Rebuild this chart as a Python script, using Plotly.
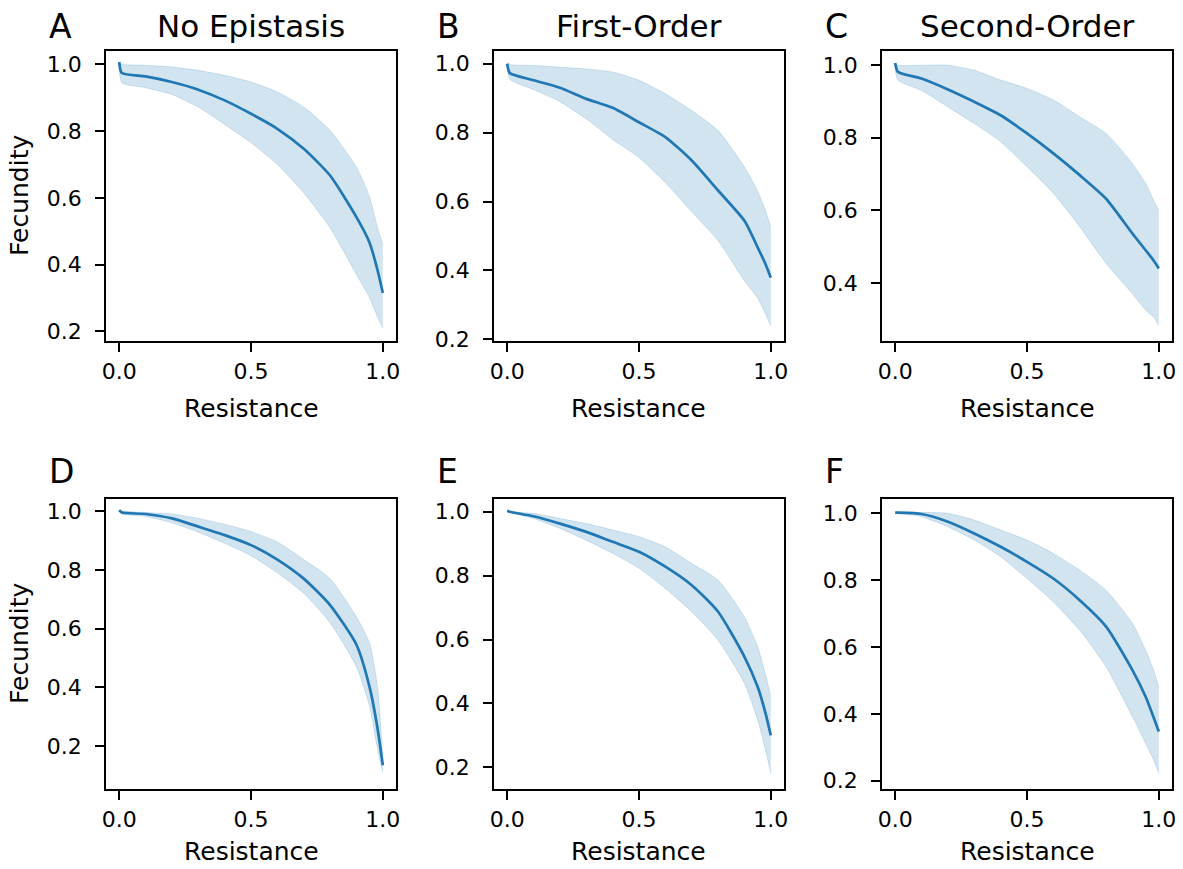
import plotly.graph_objects as go

W, H = 1183, 869

# Shared resistance grid (x values)
resistance = [0.0, 0.01, 0.1, 0.2, 0.3, 0.4, 0.5, 0.6, 0.7, 0.8, 0.9, 0.95, 0.98, 1.0]

# Panel A - No Epistasis (top row)
A_mean  = [1.007, 0.974, 0.964, 0.947, 0.924, 0.892, 0.852, 0.807, 0.747, 0.667, 0.542, 0.465, 0.383, 0.315]
A_upper = [1.005, 1.000, 0.997, 0.992, 0.982, 0.967, 0.947, 0.917, 0.872, 0.802, 0.692, 0.602, 0.510, 0.460]
A_lower = [0.990, 0.945, 0.930, 0.910, 0.872, 0.820, 0.765, 0.700, 0.615, 0.510, 0.370, 0.300, 0.243, 0.210]

# Panel B - First-Order
B_mean  = [1.000, 0.973, 0.952, 0.930, 0.898, 0.872, 0.830, 0.787, 0.719, 0.632, 0.544, 0.467, 0.418, 0.379]
B_upper = [1.005, 0.998, 0.995, 0.990, 0.985, 0.976, 0.952, 0.913, 0.864, 0.806, 0.700, 0.630, 0.573, 0.525]
B_lower = [0.990, 0.955, 0.925, 0.890, 0.840, 0.780, 0.728, 0.655, 0.570, 0.486, 0.370, 0.320, 0.273, 0.239]

# Panel C - Second-Order
C_mean  = [1.006, 0.982, 0.963, 0.933, 0.899, 0.862, 0.812, 0.757, 0.697, 0.632, 0.536, 0.490, 0.462, 0.440]
C_upper = [1.005, 1.000, 1.000, 1.000, 0.986, 0.959, 0.936, 0.904, 0.858, 0.812, 0.729, 0.674, 0.628, 0.600]
C_lower = [0.990, 0.959, 0.930, 0.885, 0.839, 0.789, 0.720, 0.647, 0.555, 0.454, 0.370, 0.325, 0.306, 0.283]

# Panel D (bottom row)
D_mean  = [1.003, 0.995, 0.990, 0.975, 0.947, 0.918, 0.884, 0.835, 0.770, 0.680, 0.545, 0.400, 0.260, 0.135]
D_upper = [1.003, 1.000, 0.995, 0.990, 0.975, 0.955, 0.930, 0.895, 0.835, 0.770, 0.640, 0.550, 0.400, 0.160]
D_lower = [1.000, 0.990, 0.982, 0.960, 0.928, 0.890, 0.848, 0.790, 0.720, 0.620, 0.470, 0.335, 0.190, 0.110]

# Panel E
E_mean  = [1.003, 1.000, 0.986, 0.963, 0.937, 0.906, 0.875, 0.828, 0.770, 0.687, 0.546, 0.452, 0.369, 0.300]
E_upper = [1.003, 1.000, 0.995, 0.979, 0.963, 0.943, 0.922, 0.890, 0.838, 0.786, 0.670, 0.578, 0.490, 0.420]
E_lower = [1.000, 0.998, 0.979, 0.948, 0.911, 0.870, 0.823, 0.760, 0.687, 0.598, 0.463, 0.348, 0.254, 0.180]

# Panel F
F_mean  = [1.002, 1.002, 0.998, 0.975, 0.940, 0.900, 0.855, 0.805, 0.740, 0.661, 0.531, 0.451, 0.390, 0.347]
F_upper = [1.003, 1.003, 1.003, 1.000, 0.980, 0.950, 0.920, 0.880, 0.830, 0.770, 0.671, 0.590, 0.531, 0.480]
F_lower = [1.000, 1.000, 0.990, 0.960, 0.920, 0.870, 0.805, 0.735, 0.650, 0.541, 0.392, 0.312, 0.262, 0.222]

letters = ["A", "B", "C", "D", "E", "F"]
titles = ["No Epistasis", "First-Order", "Second-Order", "", "", ""]
x_ticks = [0.0, 0.5, 1.0]
y_ticks = [0.2, 0.4, 0.6, 0.8, 1.0]
x_label = "Resistance"
y_label = "Fecundity"

panels = [
    (A_mean, A_upper, A_lower),
    (B_mean, B_upper, B_lower),
    (C_mean, C_upper, C_lower),
    (D_mean, D_upper, D_lower),
    (E_mean, E_upper, E_lower),
    (F_mean, F_upper, F_lower),
]
y_ranges = [[0.171, 1.040], [0.195, 1.037], [0.240, 1.039],
            [0.054, 1.041], [0.132, 1.040], [0.175, 1.043]]

# layout geometry in pixels
col_left = [106, 494, 882]
col_w = 290
row_top = [51, 499]
row_h = 290

LINE = "#1f77b4"
BAND = "rgba(31,119,180,0.2)"
FONT = "DejaVu Sans"

fig = go.Figure()
annotations = []
layout_axes = {}

for i, (mean, upper, lower) in enumerate(panels):
    r, c = divmod(i, 3)
    n = i + 1
    xa = "x" if n == 1 else f"x{n}"
    ya = "y" if n == 1 else f"y{n}"
    fig.add_trace(go.Scatter(
        x=resistance, y=lower, mode="lines",
        line=dict(color="rgba(31,119,180,0.22)", width=0.8, shape="spline", smoothing=0.6),
        hoverinfo="skip", showlegend=False, xaxis=xa, yaxis=ya))
    fig.add_trace(go.Scatter(
        x=resistance, y=upper, mode="lines", fill="tonexty", fillcolor=BAND,
        line=dict(color="rgba(31,119,180,0.22)", width=0.8, shape="spline", smoothing=0.6),
        hoverinfo="skip", showlegend=False, xaxis=xa, yaxis=ya))
    fig.add_trace(go.Scatter(
        x=resistance, y=mean, mode="lines",
        line=dict(color=LINE, width=2.7, shape="spline", smoothing=0.6),
        showlegend=False, xaxis=xa, yaxis=ya))

    x0 = col_left[c] / W
    x1 = (col_left[c] + col_w) / W
    y1 = 1 - row_top[r] / H
    y0 = 1 - (row_top[r] + row_h) / H
    axis_common = dict(showline=True, linecolor="black", linewidth=1.6, mirror=True,
                       ticks="outside", ticklen=9, tickwidth=1.6, tickcolor="black",
                       showgrid=False, zeroline=False,
                       tickfont=dict(family=FONT, size=22, color="black"),
                       tickformat=".1f", fixedrange=True)
    layout_axes["xaxis" if n == 1 else f"xaxis{n}"] = dict(
        domain=[x0, x1], range=[-0.05, 1.05], tickvals=x_ticks,
        anchor=ya, ticklabelstandoff=1, **axis_common)
    layout_axes["yaxis" if n == 1 else f"yaxis{n}"] = dict(
        domain=[y0, y1], range=y_ranges[i], tickvals=y_ticks,
        anchor=xa, ticklabelstandoff=9, **axis_common)

    # letter label
    letter_y = 26 if r == 0 else 472
    annotations.append(dict(text=letters[i], x=(col_left[c] - 59) / W, y=1 - letter_y / H,
                            xref="paper", yref="paper", xanchor="left", yanchor="middle",
                            showarrow=False, font=dict(family=FONT, size=33, color="black")))
    if titles[i]:
        annotations.append(dict(text=titles[i], x=(col_left[c] + col_w / 2) / W, y=1 - 26 / H,
                                xref="paper", yref="paper", xanchor="center", yanchor="middle",
                                showarrow=False, font=dict(family=FONT, size=31, color="black")))
    # x axis title
    xt_y = row_top[r] + row_h + (67 if r == 0 else 62)
    annotations.append(dict(text=x_label, x=(col_left[c] + col_w / 2) / W, y=1 - xt_y / H,
                            xref="paper", yref="paper", xanchor="center", yanchor="middle",
                            showarrow=False, font=dict(family=FONT, size=25, color="black")))
    if c == 0:
        annotations.append(dict(text=y_label, x=19 / W, y=1 - (row_top[r] + row_h / 2) / H,
                                xref="paper", yref="paper", xanchor="center", yanchor="middle",
                                textangle=-90, showarrow=False,
                                font=dict(family=FONT, size=25, color="black")))

fig.update_layout(
    width=W, height=H,
    margin=dict(l=0, r=0, t=0, b=0, autoexpand=False),
    paper_bgcolor="white", plot_bgcolor="white",
    annotations=annotations,
    font=dict(family=FONT, color="black"),
    **layout_axes,
)

fig.write_html("out.html", config={"displayModeBar": False},
               post_script="document.body.style.margin='0';document.body.style.overflow='hidden';")
